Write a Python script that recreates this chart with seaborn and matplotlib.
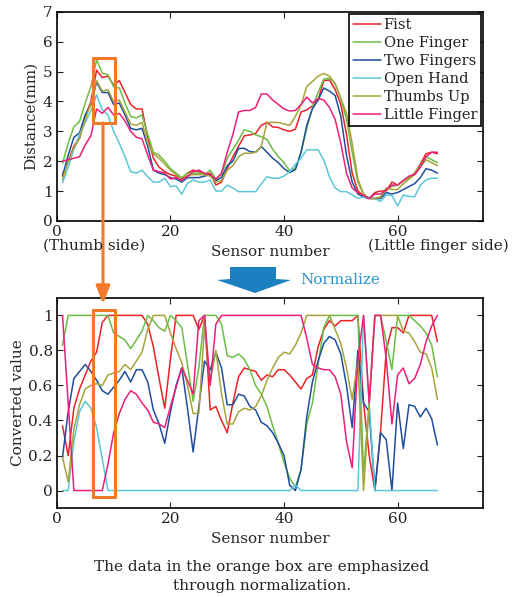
import numpy as np
import pandas as pd
import matplotlib
matplotlib.use("Agg")
import matplotlib.pyplot as plt
import seaborn as sns
from matplotlib.patches import Rectangle, Polygon, FancyArrowPatch

# Sensor readings (distance, mm) per gesture
sensors = list(range(1, 68))
gestures = ["Fist", "One Finger", "Two Fingers", "Open Hand", "Thumbs Up", "Little Finger"]
colors = ["#ec2227", "#6cbd45", "#1f4e9e", "#5bc7d9", "#a5a43a", "#ec1f78"]

fist_top = [1.55, 2.0, 2.5, 2.8, 3.5, 4.0, 5.05, 4.8, 4.85, 4.55,
            4.7, 4.3, 3.9, 3.75, 3.75, 2.8, 2.1, 1.8, 1.65, 1.55,
            1.5, 1.4, 1.6, 1.7, 1.65, 1.55, 1.6, 1.2, 1.3, 1.75,
            2.15, 2.5, 2.85, 2.88, 2.93, 3.2, 3.3, 3.15, 3.13, 3.05,
            3.0, 3.07, 3.65, 3.72, 3.85, 4.05, 4.7, 4.72, 4.4, 3.9,
            2.9, 1.6, 1.0, 0.85, 0.75, 0.95, 1.0, 1.0, 1.3, 1.2,
            1.35, 1.45, 1.6, 1.9, 2.25, 2.3, 2.25]
one_top = [1.93, 2.6, 3.15, 3.33, 3.95, 4.5, 5.4, 4.95, 4.9, 4.5,
           4.45, 3.95, 3.5, 3.45, 3.55, 2.9, 2.3, 2.2, 2.0, 1.75,
           1.6, 1.45, 1.6, 1.6, 1.6, 1.55, 1.7, 1.4, 1.55, 2.1,
           2.4, 2.7, 3.05, 3.0, 2.88, 2.82, 2.73, 2.4, 2.15, 1.95,
           1.68, 1.76, 2.3, 3.1, 3.8, 4.3, 4.75, 4.78, 4.6, 4.1,
           3.4, 2.3, 1.3, 0.9, 0.75, 0.75, 0.8, 1.05, 1.15, 1.2,
           1.35, 1.45, 1.6, 1.85, 2.15, 2.05, 1.95]
two_top = [1.5, 2.2, 2.8, 2.95, 3.55, 3.9, 4.65, 4.3, 4.3, 3.9,
           3.95, 3.55, 3.1, 3.05, 3.1, 2.5, 1.7, 1.6, 1.55, 1.45,
           1.4, 1.3, 1.45, 1.45, 1.45, 1.5, 1.55, 1.35, 1.45, 1.85,
           2.0, 2.43, 2.43, 2.32, 2.3, 2.49, 2.3, 2.1, 1.95, 1.75,
           1.62, 1.72, 2.3, 3.2, 3.75, 4.05, 4.45, 4.35, 4.2, 3.5,
           2.2, 1.3, 0.9, 0.8, 0.75, 0.75, 0.75, 0.95, 0.9, 0.95,
           1.05, 1.15, 1.25, 1.45, 1.75, 1.7, 1.6]
open_top = [1.28, 1.8, 2.4, 2.9, 3.3, 3.7, 4.22, 3.72, 3.55, 3.0,
            2.6, 2.15, 1.65, 1.6, 1.7, 1.48, 1.3, 1.3, 1.43, 1.15,
            1.17, 0.89, 1.26, 1.37, 1.3, 1.3, 1.37, 1.0, 1.0, 1.2,
            1.1, 0.98, 0.98, 0.98, 0.98, 1.24, 1.48, 1.43, 1.43, 1.5,
            1.65, 1.9, 2.1, 2.38, 2.38, 2.38, 2.04, 1.48, 1.1, 0.98,
            0.98, 0.87, 0.76, 0.8, 0.8, 0.75, 0.65, 0.87, 0.85, 0.5,
            0.87, 0.82, 0.81, 1.2, 1.37, 1.43, 1.43]
thumbs_top = [1.4, 2.0, 2.45, 2.75, 3.4, 3.95, 4.7, 4.35, 4.4, 4.0,
              4.05, 3.65, 3.25, 3.2, 3.3, 2.6, 2.25, 2.1, 1.9, 1.7,
              1.55, 1.35, 1.5, 1.55, 1.55, 1.55, 1.5, 1.3, 1.35, 1.7,
              1.85, 2.15, 2.27, 2.26, 2.3, 2.5, 3.3, 3.3, 3.3, 3.25,
              3.2, 3.5, 3.88, 4.5, 4.67, 4.85, 4.94, 4.85, 4.6, 4.1,
              3.6, 2.6, 1.4, 0.9, 0.75, 0.75, 0.8, 1.1, 1.05, 1.05,
              1.25, 1.4, 1.55, 1.8, 2.05, 1.95, 1.85]
little_top = [2.0, 2.05, 2.1, 2.15, 2.55, 2.85, 3.75, 3.6, 3.8, 3.55,
              3.6, 3.35, 3.0, 2.8, 2.75, 2.2, 1.7, 1.65, 1.6, 1.4,
              1.45, 1.35, 1.5, 1.65, 1.7, 1.6, 1.55, 1.4, 1.6, 2.3,
              2.9, 3.65, 3.7, 3.7, 3.8, 4.25, 4.25, 4.05, 3.9, 3.75,
              3.68, 3.7, 3.9, 4.15, 3.95, 4.1, 4.05, 3.8, 3.4, 2.6,
              1.6, 1.1, 0.95, 0.85, 0.75, 0.9, 0.9, 1.05, 1.2, 1.2,
              1.35, 1.5, 1.55, 1.8, 2.15, 2.3, 2.3]

# Converted (normalized) values per gesture
fist_bot = [0.37, 0.2, 0.47, 0.58, 0.66, 0.74, 0.79, 0.96, 1.0, 1.0,
            1.0, 1.0, 1.0, 1.0, 1.0, 0.95, 0.82, 0.64, 0.47, 0.75,
            1.0, 1.0, 1.0, 1.0, 0.92, 1.0, 0.46, 0.48, 0.4, 0.33,
            0.5, 0.65, 0.7, 0.69, 0.68, 0.63, 0.66, 0.65, 0.69, 0.69,
            0.66, 0.62, 0.58, 0.64, 0.66, 0.82, 0.92, 0.97, 0.94, 0.97,
            0.97, 0.97, 1.0, 0.5, 0.2, 0.0, 0.34, 0.8, 0.93, 0.93,
            0.9, 1.0, 1.0, 1.0, 1.0, 1.0, 0.85]
one_bot = [0.83, 1.0, 1.0, 1.0, 1.0, 1.0, 1.0, 1.0, 1.0, 0.9,
           0.88, 0.86, 0.81, 0.86, 0.91, 1.0, 0.97, 0.93, 0.91, 1.0,
           0.97, 0.93, 0.72, 0.51, 0.7, 1.0, 1.0, 1.0, 0.95, 0.77,
           0.76, 0.78, 0.75, 0.69, 0.6, 0.55, 0.48, 0.37, 0.27, 0.16,
           0.07, 0.02, 0.12, 0.38, 0.5, 0.72, 0.93, 1.0, 1.0, 1.0,
           1.0, 1.0, 1.0, 0.1, 0.5, 1.0, 1.0, 0.85, 0.69, 1.0,
           1.0, 1.0, 0.97, 0.94, 0.9, 0.83, 0.65]
two_bot = [0.19, 0.45, 0.64, 0.68, 0.72, 0.68, 0.63, 0.57, 0.55, 0.59,
           0.63, 0.68, 0.62, 0.69, 0.69, 0.62, 0.46, 0.38, 0.27, 0.45,
           0.6, 0.7, 0.47, 0.22, 0.48, 0.74, 0.69, 0.79, 0.7, 0.49,
           0.49, 0.55, 0.54, 0.48, 0.46, 0.39, 0.37, 0.33, 0.27, 0.2,
           0.03, 0.0, 0.12, 0.42, 0.62, 0.74, 0.84, 0.88, 0.86, 0.78,
           0.6, 0.36, 0.8, 0.5, 0.45, 0.0, 0.33, 0.29, 0.0, 0.5,
           0.24, 0.49, 0.48, 0.42, 0.47, 0.41, 0.26]
open_bot = [0.0, 0.0, 0.28, 0.45, 0.51, 0.47, 0.36, 0.18, 0.0, 0.0,
            0.0, 0.0, 0.0, 0.0, 0.0, 0.0, 0.0, 0.0, 0.0, 0.0,
            0.0, 0.0, 0.0, 0.0, 0.0, 0.0, 0.0, 0.0, 0.0, 0.0,
            0.0, 0.0, 0.0, 0.0, 0.0, 0.0, 0.0, 0.0, 0.0, 0.0,
            0.0, 0.03, 0.0, 0.0, 0.0, 0.0, 0.0, 0.0, 0.0, 0.0,
            0.0, 0.0, 0.0, 1.0, 0.5, 0.0, 0.0, 0.0, 0.0, 0.0,
            0.0, 0.0, 0.0, 0.0, 0.0, 0.0, 0.0]
thumbs_bot = [0.19, 0.05, 0.35, 0.49, 0.58, 0.6, 0.61, 0.6, 0.66, 0.67,
              0.68, 0.72, 0.69, 0.74, 0.79, 0.92, 1.0, 1.0, 1.0, 0.9,
              0.81, 0.73, 0.6, 0.44, 0.44, 0.93, 0.62, 0.8, 0.55, 0.38,
              0.38, 0.45, 0.47, 0.46, 0.48, 0.54, 0.63, 0.7, 0.76, 0.79,
              0.78, 0.83, 0.9, 1.0, 1.0, 1.0, 1.0, 1.0, 0.92, 0.84,
              0.7, 0.52, 0.74, 0.0, 0.5, 1.0, 1.0, 1.0, 1.0, 1.0,
              0.91, 0.9, 0.85, 0.79, 0.78, 0.7, 0.52]
little_bot = [1.0, 0.5, 0.0, 0.0, 0.0, 0.0, 0.0, 0.0, 0.15, 0.33,
              0.44, 0.52, 0.57, 0.55, 0.5, 0.46, 0.39, 0.38, 0.36, 0.48,
              0.59, 0.7, 0.63, 0.55, 0.97, 1.0, 0.6, 0.95, 1.0, 1.0,
              1.0, 1.0, 1.0, 1.0, 1.0, 1.0, 1.0, 1.0, 1.0, 1.0,
              1.0, 1.0, 1.0, 0.87, 0.72, 0.7, 0.69, 0.69, 0.65, 0.55,
              0.28, 0.13, 0.75, 1.0, 0.5, 1.0, 1.0, 0.75, 0.38, 0.66,
              0.7, 0.61, 0.64, 0.72, 0.85, 0.94, 1.0]

top_vals = [fist_top, one_top, two_top, open_top, thumbs_top, little_top]
bot_vals = [fist_bot, one_bot, two_bot, open_bot, thumbs_bot, little_bot]

def long_form(series):
    rows = []
    for g, vals in zip(gestures, series):
        for s, v in zip(sensors, vals):
            rows.append((s, v, g))
    return pd.DataFrame(rows, columns=["sensor", "value", "gesture"])

top_df = long_form(top_vals)
bot_df = long_form(bot_vals)

sns.set_style("ticks")
plt.rcParams["font.family"] = ["DejaVu Serif"]
plt.rcParams["font.size"] = 11
plt.rcParams["xtick.direction"] = "in"
plt.rcParams["ytick.direction"] = "in"
plt.rcParams["xtick.top"] = True
plt.rcParams["ytick.right"] = True
plt.rcParams["axes.linewidth"] = 1.2
plt.rcParams["text.color"] = "#222222"
plt.rcParams["xtick.color"] = "#222222"
plt.rcParams["ytick.color"] = "#222222"

orange = "#f07a28"
palette = dict(zip(gestures, colors))

fig = plt.figure(figsize=(5.12, 5.97), dpi=100)
ax1 = fig.add_axes([0.111, 0.630, 0.832, 0.350])
ax2 = fig.add_axes([0.111, 0.149, 0.832, 0.352])

sns.lineplot(data=top_df, x="sensor", y="value", hue="gesture", palette=palette,
             estimator=None, linewidth=1.1, ax=ax1)
sns.lineplot(data=bot_df, x="sensor", y="value", hue="gesture", palette=palette,
             estimator=None, linewidth=1.1, ax=ax2, legend=False)

for ax in (ax1, ax2):
    ax.set_xlim(0, 75)
    ax.set_xticks([0, 20, 40, 60])
    ax.tick_params(length=4, width=0.8, labelsize=11, pad=3)
    for sp in ax.spines.values():
        sp.set_color("black")

ax1.set_ylim(0, 7)
ax1.set_yticks(range(0, 8))
ax1.set_ylabel("Distance(mm)", fontsize=11)
ax1.yaxis.set_label_coords(-0.045, 0.5)
ax1.set_xlabel("Sensor number", fontsize=11)
ax1.xaxis.set_label_coords(0.5, -0.115)
ax1.xaxis.label.set_va("top")

ax2.set_ylim(-0.1, 1.1)
ax2.set_yticks([0, 0.2, 0.4, 0.6, 0.8, 1])
ax2.set_yticklabels(["0", "0.2", "0.4", "0.6", "0.8", "1"])
ax2.set_ylabel("Converted value", fontsize=11)
ax2.yaxis.set_label_coords(-0.075, 0.5)
ax2.set_xlabel("Sensor number", fontsize=11)
ax2.xaxis.set_label_coords(0.5, -0.115)
ax2.xaxis.label.set_va("top")

# legend
handles, labels = ax1.get_legend_handles_labels()
leg = ax1.legend(handles, labels, loc="upper right", bbox_to_anchor=(0.995, 0.99),
                 borderaxespad=0, fontsize=10.5, handlelength=1.9, handletextpad=0.2,
                 labelspacing=0.28, borderpad=0.25, fancybox=False, framealpha=1,
                 edgecolor="black")
leg.get_frame().set_linewidth(1.2)

# orange boxes
ax1.add_patch(Rectangle((6.3, 3.28), 3.9, 2.18, fill=False, edgecolor=orange, lw=2.2, zorder=5))
ax2.add_patch(Rectangle((6.3, -0.035), 3.9, 1.065, fill=False, edgecolor=orange, lw=2.2,
                        zorder=5, clip_on=False))

W, H = 512.0, 597.0
def fp(x, y):
    return (x / W, 1 - y / H)

# orange connecting arrow
arr = FancyArrowPatch(fp(103, 123), fp(103, 304), transform=fig.transFigure,
                      arrowstyle="-|>,head_length=0.9,head_width=0.35", mutation_scale=12,
                      lw=2.2, color=orange, shrinkA=0, shrinkB=0)
fig.add_artist(arr)

# blue "normalize" arrow
blue_pts = [fp(230, 267), fp(276, 267), fp(276, 279), fp(291, 280), fp(255, 293), fp(217, 280), fp(230, 279)]
fig.add_artist(Polygon(blue_pts, closed=True, transform=fig.transFigure, facecolor="#1a80bf",
                       edgecolor="none"))
fig.text(300 / W, 1 - 280 / H, "Normalize", color="#2a95c9", fontsize=11, ha="left", va="center")

# side annotations
fig.text(94 / W, 1 - 246 / H, "(Thumb side)", fontsize=11, ha="center", va="center")
fig.text(438 / W, 1 - 246 / H, "(Little finger side)", fontsize=11, ha="center", va="center")

# caption
fig.text(262 / W, 1 - 567 / H, "The data in the orange box are emphasized", fontsize=11,
         ha="center", va="center")
fig.text(262 / W, 1 - 586 / H, "through normalization.", fontsize=11, ha="center", va="center")

fig.savefig("out.png", dpi=100, facecolor="white")
